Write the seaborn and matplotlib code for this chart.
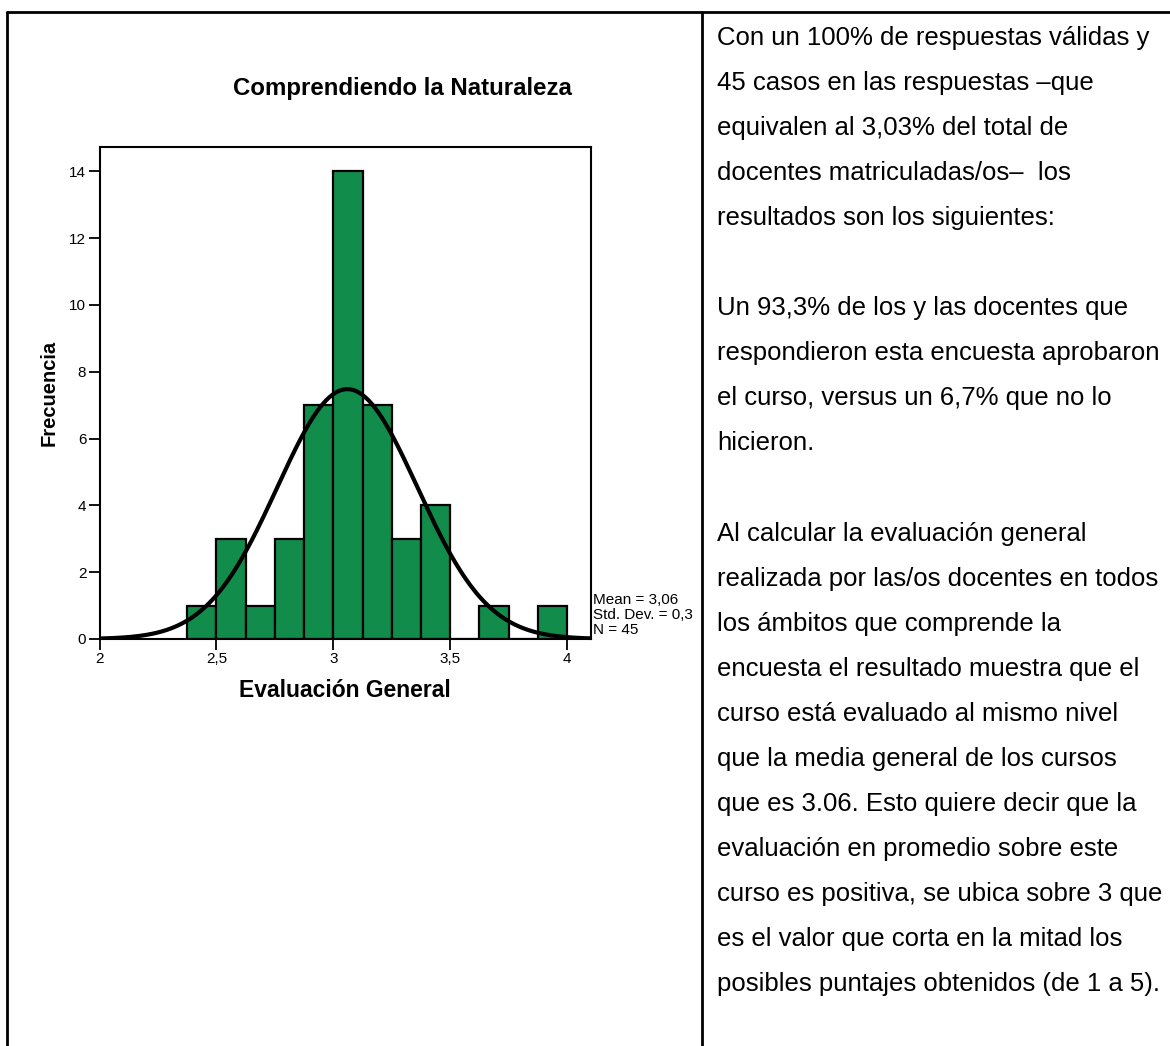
import numpy as np
import pandas as pd
import matplotlib
matplotlib.use("Agg")
import matplotlib.pyplot as plt
import seaborn as sns
from matplotlib.lines import Line2D

# ---- data ----
bin_edges = [2.375, 2.5, 2.625, 2.75, 2.875, 3.0, 3.125, 3.25, 3.375, 3.5, 3.625, 3.75, 3.875, 4.0]
bin_counts = [1, 3, 1, 3, 7, 14, 7, 3, 4, 0, 1, 0, 1]
mean_val = 3.06
std_val = 0.3
n_val = 45
x_ticks = [2, 2.5, 3, 3.5, 4]
x_ticklabels = ["2", "2,5", "3", "3,5", "4"]
y_ticks = [0, 2, 4, 6, 8, 10, 12, 14]

title = "Comprendiendo la Naturaleza"
xlabel = "Evaluación General"
ylabel = "Frecuencia"
stats_text = "Mean = 3,06\nStd. Dev. = 0,3\nN = 45"

text_lines = [
    "Con un 100% de respuestas válidas y",
    "45 casos en las respuestas –que",
    "equivalen al 3,03% del total de",
    "docentes matriculadas/os–  los",
    "resultados son los siguientes:",
    "",
    "Un 93,3% de los y las docentes que",
    "respondieron esta encuesta aprobaron",
    "el curso, versus un 6,7% que no lo",
    "hicieron.",
    "",
    "Al calcular la evaluación general",
    "realizada por las/os docentes en todos",
    "los ámbitos que comprende la",
    "encuesta el resultado muestra que el",
    "curso está evaluado al mismo nivel",
    "que la media general de los cursos",
    "que es 3.06. Esto quiere decir que la",
    "evaluación en promedio sobre este",
    "curso es positiva, se ubica sobre 3 que",
    "es el valor que corta en la mitad los",
    "posibles puntajes obtenidos (de 1 a 5).",
]

# ---- build tables ----
centers = [(a + b) / 2 for a, b in zip(bin_edges[:-1], bin_edges[1:])]
hist_df = pd.DataFrame({"valor": centers, "n": bin_counts})
width = bin_edges[1] - bin_edges[0]
xs = np.linspace(2.0, 4.1, 300)
curve_df = pd.DataFrame({
    "x": xs,
    "y": n_val * width / (std_val * np.sqrt(2 * np.pi)) * np.exp(-0.5 * ((xs - mean_val) / std_val) ** 2),
})

sns.set_theme(style="white")
plt.rcParams["font.family"] = ["Liberation Sans", "DejaVu Sans"]
plt.rcParams["text.color"] = "black"
plt.rcParams["axes.labelcolor"] = "black"
plt.rcParams["xtick.color"] = "black"
plt.rcParams["ytick.color"] = "black"

W, H = 1170, 1046
fig = plt.figure(figsize=(W / 100, H / 100), dpi=100)
fig.patch.set_facecolor("white")

# axes placement in pixels
ax_l, ax_r, ax_t, ax_b = 99.5, 590.5, 147, 639
ax = fig.add_axes([ax_l / W, 1 - ax_b / H, (ax_r - ax_l) / W, (ax_b - ax_t) / H])

sns.histplot(data=hist_df, x="valor", weights="n", bins=bin_edges, ax=ax,
             color="#118C4A", alpha=1.0, edgecolor="black", linewidth=1.6)
sns.lineplot(data=curve_df, x="x", y="y", ax=ax, color="black", linewidth=3.0)

ax.set_xlim(2.0, 4.1)
ax.set_ylim(0, 14.73)
ax.set_xticks(x_ticks)
ax.set_xticklabels(x_ticklabels)
ax.set_yticks(y_ticks)
for s in ax.spines.values():
    s.set_visible(True)
    s.set_color("black")
    s.set_linewidth(1.5)
ax.tick_params(axis="both", direction="out", length=8, width=1.3, colors="black",
               labelsize=11, pad=1.5, left=True, bottom=True)
ax.set_xlabel(xlabel, fontsize=16.5, fontweight="bold", labelpad=9, color="black")
ax.set_ylabel(ylabel, fontsize=14.5, fontweight="bold", labelpad=8, color="black")
ax.grid(False)

# title
fig.text(402 / W, 1 - 89 / H, title, ha="center", va="center", fontsize=17.3, fontweight="bold", color="black")

# stats
fig.text(593 / W, 1 - 615 / H, stats_text, ha="left", va="center", fontsize=11, linespacing=1.1, color="black")

# right text
y0, dy = 38.0, 45.05
for i, line in enumerate(text_lines):
    if line:
        fig.text(717 / W, 1 - (y0 + i * dy) / H, line, ha="left", va="center", fontsize=18.5, color="black")

# borders
lw = 2.0
fig.add_artist(Line2D([7 / W, 1.0], [1 - 12 / H, 1 - 12 / H], color="black", lw=lw, transform=fig.transFigure))
fig.add_artist(Line2D([7 / W, 7 / W], [1 - 12 / H, 0], color="black", lw=lw, transform=fig.transFigure))
fig.add_artist(Line2D([702 / W, 702 / W], [1 - 12 / H, 0], color="black", lw=lw, transform=fig.transFigure))

fig.savefig("out.png", dpi=100)
